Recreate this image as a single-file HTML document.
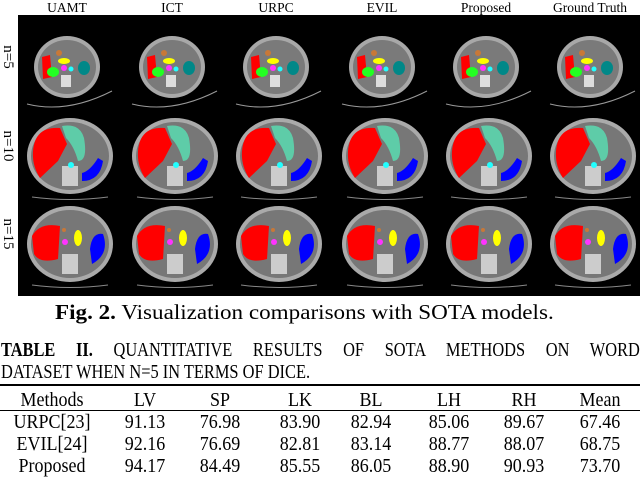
<!DOCTYPE html>
<html><head><meta charset="utf-8"><style>
body{margin:0;width:640px;height:461px;background:#fff;overflow:hidden;font-family:"Liberation Serif",serif;color:#000}
.abs{position:absolute;white-space:nowrap}
</style></head><body>
<div style="position:relative;width:640px;height:461px">
<svg id="fig" width="640" height="300" style="position:absolute;left:0;top:0"></svg>
<div class="abs" style="left:55px;top:300px;font-size:21px;transform:scaleX(1.1);transform-origin:0 0"><b>Fig. 2.</b> Visualization comparisons with SOTA models.</div>
<div class="abs" style="left:1px;top:339px;font-size:20px;width:780px;text-align:justify;text-align-last:justify;transform:scaleX(0.819);transform-origin:0 0"><b>TABLE II.</b> QUANTITATIVE RESULTS OF SOTA METHODS ON WORD</div>
<div class="abs" style="left:1px;top:361px;font-size:20px;transform:scaleX(0.82);transform-origin:0 0">DATASET WHEN N=5 IN TERMS OF DICE.</div>
<div style="position:absolute;left:0;top:384px;width:640px;height:2px;background:#000"></div>
<div style="position:absolute;left:0;top:410px;width:640px;height:1px;background:#000"></div>
<div id="tbl"></div>
</div>
<script>
const NS="http://www.w3.org/2000/svg";
const svg=document.getElementById('fig');
function el(t,a){const e=document.createElementNS(NS,t);for(const k in a)e.setAttribute(k,a[k]);svg.appendChild(e);return e;}
const methods=["UAMT","ICT","URPC","EVIL","Proposed","Ground Truth"];
const colX=[67,172,276,382,486,590];
const rowLabels=["n=5","n=10","n=15"];
const rowY=[67,156,244];
let bg=el('rect',{x:18,y:15,width:622,height:281,fill:'#000'});


methods.forEach((m,i)=>{const t=el('text',{x:colX[i],y:12,'text-anchor':'middle','font-size':'13.5','font-family':'Liberation Serif'});t.textContent=m;

});
rowLabels.forEach((r,j)=>{const t=el('text',{x:0,y:0,'text-anchor':'middle','font-size':'15','font-family':'Liberation Serif',transform:`translate(4,${rowY[j]-10}) rotate(90)`});t.textContent=r;

});
for(let j=0;j<3;j++)for(let i=0;i<6;i++){
 const cx=colX[i]+(j?3:0),cy=rowY[j];
 const g=document.createElementNS(NS,'g');svg.appendChild(g);
 
 
 const add=(t,a)=>{const e=document.createElementNS(NS,t);for(const k in a)e.setAttribute(k,a[k]);g.appendChild(e);return e;};
 if(j==0){
  add('ellipse',{cx,cy,rx:33,ry:31,fill:'#a8a8a8'});
  add('ellipse',{cx,cy,rx:29,ry:27,fill:'#7a7a7a'});
  add('path',{d:`M${cx-40} ${cy+37} Q${cx} ${cy+47} ${cx+45} ${cy+24}`,stroke:'#999',fill:'none','stroke-width':1});
  add('path',{d:`M${cx-25} ${cy-10} L${cx-17} ${cy-12} L${cx-15} ${cy+10} L${cx-24} ${cy+12}Z`,fill:'#f00'});
  add('ellipse',{cx:cx-14,cy:cy+5,rx:6,ry:5,fill:'#2f2'});
  add('ellipse',{cx:cx-8,cy:cy-14,rx:3,ry:3,fill:'#c87838'});
  add('ellipse',{cx:cx-3,cy:cy-6,rx:6,ry:3,fill:'#ff0'});
  add('ellipse',{cx:cx-3,cy:cy+1,rx:3,ry:3,fill:'#f3f'});
  add('circle',{cx:cx+4,cy:cy+2,r:2.5,fill:'#2ff'});
  add('ellipse',{cx:cx+17,cy:cy+1,rx:6,ry:7,fill:'#088'});
  add('rect',{x:cx-6,y:cy+8,width:10,height:12,fill:'#ddd'});
 }else{
  add('ellipse',{cx,cy,rx:43,ry:38,fill:'#aaa'});
  add('ellipse',{cx,cy,rx:39,ry:34,fill:'#777'});
  add('path',{d:`M${cx-38} ${cy+41} Q${cx} ${cy+46} ${cx+38} ${cy+41}`,stroke:'#888',fill:'none','stroke-width':1});
  add('rect',{x:cx-8,y:cy+10,width:16,height:20,fill:'#ccc'});
  if(j==1){
   add('path',{d:`M${cx-37} ${cy-5} Q${cx-35} ${cy-30} ${cx-10} ${cy-28} L${cx-3} ${cy-12} L${cx-12} ${cy+5} L${cx-30} ${cy+22} Q${cx-38} ${cy+10} ${cx-37} ${cy-5}Z`,fill:'#f00'});
   add('path',{d:`M${cx-8} ${cy-30} Q${cx+10} ${cy-33} ${cx+14} ${cy-18} Q${cx+18} ${cy+5} ${cx+8} ${cy+5} Q${cx+4} ${cy-10} ${cx-4} ${cy-18}Z`,fill:'#5ecca8'});
   add('path',{d:`M${cx+12} ${cy+25} Q${cx+30} ${cy+25} ${cx+33} ${cy+5} L${cx+28} ${cy+2} Q${cx+20} ${cy+15} ${cx+12} ${cy+17}Z`,fill:'#00f'});
   add('circle',{cx:cx+1,cy:cy+9,r:3,fill:'#2ff'});
  }else{
   add('path',{d:`M${cx-38} ${cy-8} Q${cx-30} ${cy-22} ${cx-10} ${cy-18} L${cx-12} ${cy+15} Q${cx-30} ${cy+20} ${cx-36} ${cy+10}Z`,fill:'#f00'});
   add('path',{d:`M${cx+22} ${cy+20} Q${cx+40} ${cy+10} ${cx+33} ${cy-10} Q${cx+22} ${cy-12} ${cx+20} ${cy+5}Z`,fill:'#00f'});
   add('ellipse',{cx:cx+8,cy:cy-6,rx:4,ry:8,fill:'#ff0'});
   add('circle',{cx:cx-5,cy:cy-2,r:3,fill:'#f3f'});
   add('circle',{cx:cx-6,cy:cy-14,r:2,fill:'#c87838'});
  }
 }
}
const headers=["Methods","LV","SP","LK","BL","LH","RH","Mean"];
const colC=[52,145,220,300,371,449,524,600];
const rows=[["URPC[23]",91.13,76.98,83.90,82.94,85.06,89.67,67.46],["EVIL[24]",92.16,76.69,82.81,83.14,88.77,88.07,68.75],["Proposed",94.17,84.49,85.55,86.05,88.90,90.93,73.70]];
const tbl=document.getElementById('tbl');
function cell(txt,x,y){const d=document.createElement('div');d.className='abs';d.textContent=txt;d.style.cssText=`left:${x-60}px;width:120px;text-align:center;top:${y}px;font-size:20px;transform:scaleX(0.9)`;


tbl.appendChild(d);}
headers.forEach((h,i)=>cell(h,colC[i],389));
rows.forEach((r,j)=>r.forEach((v,i)=>cell(typeof v=='number'?v.toFixed(2):v,colC[i],411+j*22)));
</script>
</body></html>
